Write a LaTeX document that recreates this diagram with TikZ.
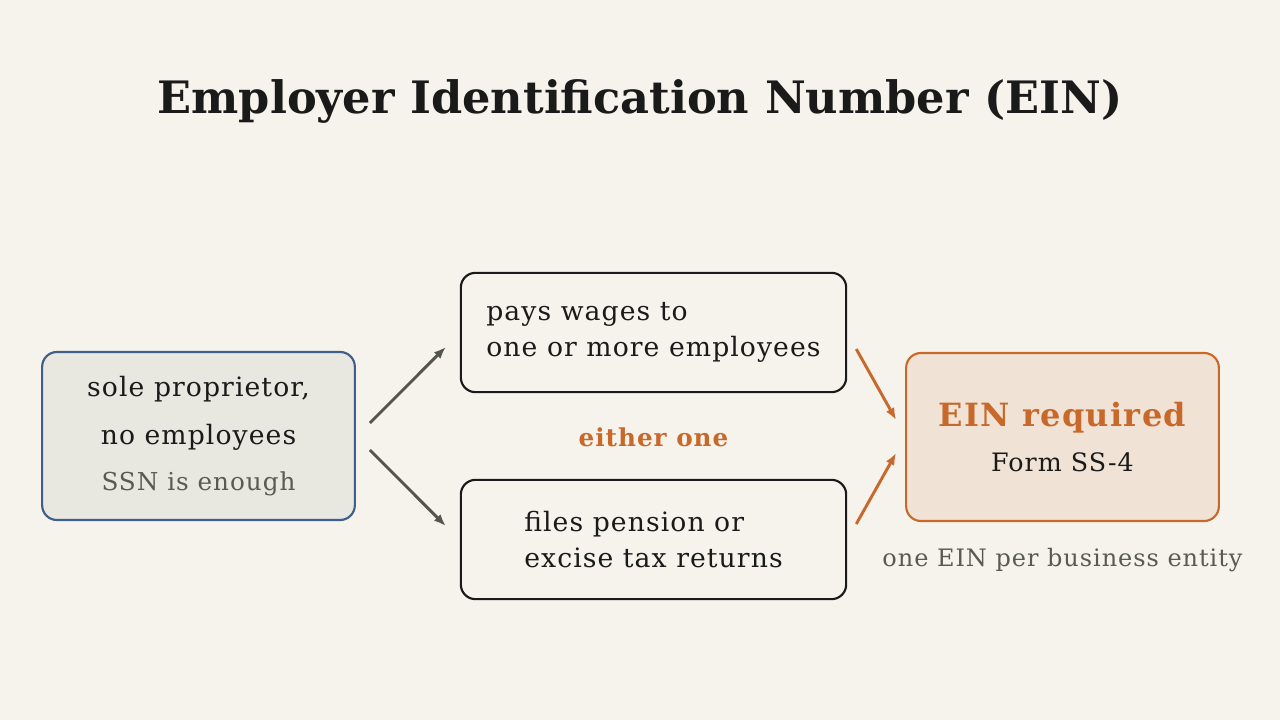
\documentclass[tikz,border=0pt]{standalone}
\usepackage{fontspec}
\setmainfont{DejaVu Serif}[LetterSpace=4]
\newfontfamily\titlefont{DejaVu Serif}
\usetikzlibrary{arrows.meta}
\definecolor{paper}{HTML}{F5F3EC}
\definecolor{soleFill}{HTML}{E8E7E0}
\definecolor{soleLine}{HTML}{3F5F8A}
\definecolor{ink}{HTML}{1A1A1A}
\definecolor{rust}{HTML}{C8692B}
\definecolor{rustFill}{HTML}{F0E3D5}
\definecolor{arrowGray}{HTML}{55554F}
\definecolor{noteGray}{HTML}{5A5A55}
\tikzset{
  box/.style={rounded corners=11pt, line width=1.6pt, inner sep=0pt},
  arr/.style={-{Latex[length=9pt,width=7pt]}, line width=2.2pt},
}
\begin{document}
\begin{tikzpicture}[x=0.75pt, y=-0.75pt]
    \fill[paper] (0,0) rectangle (1280,720);
    \useasboundingbox (0,0) rectangle (1280,720);

    \node[font=\titlefont\fontsize{33.5}{38}\selectfont\bfseries, text=ink] (title) at (640,101) {Employer Identification Number (EIN)};

    % the two cases
    \node[box, draw=soleLine, fill=soleFill, minimum width=234.5pt, minimum height=126pt, align=center,
          font=\fontsize{20}{27}\selectfont, text=ink] (sole) at (198.5,436)
          {sole proprietor,\\[9pt] no employees\\[8pt] {\color{noteGray}\fontsize{18.5}{27}\selectfont SSN is enough}};
    \node[box, draw=ink, fill=paper, minimum width=289pt, minimum height=89.5pt, align=left,
          font=\fontsize{20}{27}\selectfont, text=ink] (wages) at (653.5,332.5)
          {pays wages to\\one or more employees};
    \node[box, draw=ink, fill=paper, minimum width=289pt, minimum height=89.5pt, align=left,
          font=\fontsize{20}{27}\selectfont, text=ink] (pension) at (653.5,539.5)
          {files pension or\\excise tax returns};
    \node[font=\fontsize{18.5}{22}\selectfont\bfseries, text=rust] (either) at (653.5,437) {either one};

    % result
    \node[box, draw=rust, fill=rustFill, minimum width=234.5pt, minimum height=126pt, align=center] (ein) at (1062.5,437)
          {{\fontsize{24}{30}\selectfont\bfseries\color{rust} EIN required}\\[14pt]
           {\fontsize{19}{24}\selectfont\color{ink} Form SS-4}};
    \node[font=\fontsize{18}{22}\selectfont, text=noteGray] (entity) at (1062.5,560) {one EIN per business entity};

    \draw[arr, arrowGray] ([shift={(14,-13)}]sole.east) -- ([shift={(-14,14.5)}]wages.west);
    \draw[arr, arrowGray] ([shift={(14,14)}]sole.east) -- ([shift={(-14,-13.5)}]pension.west);
    \draw[arr, rust] ([shift={(9,16.5)}]wages.east) -- ([shift={(-9,-17)}]ein.west);
    \draw[arr, rust] ([shift={(9,-15.5)}]pension.east) -- ([shift={(-9,16)}]ein.west);
\end{tikzpicture}
\end{document}
